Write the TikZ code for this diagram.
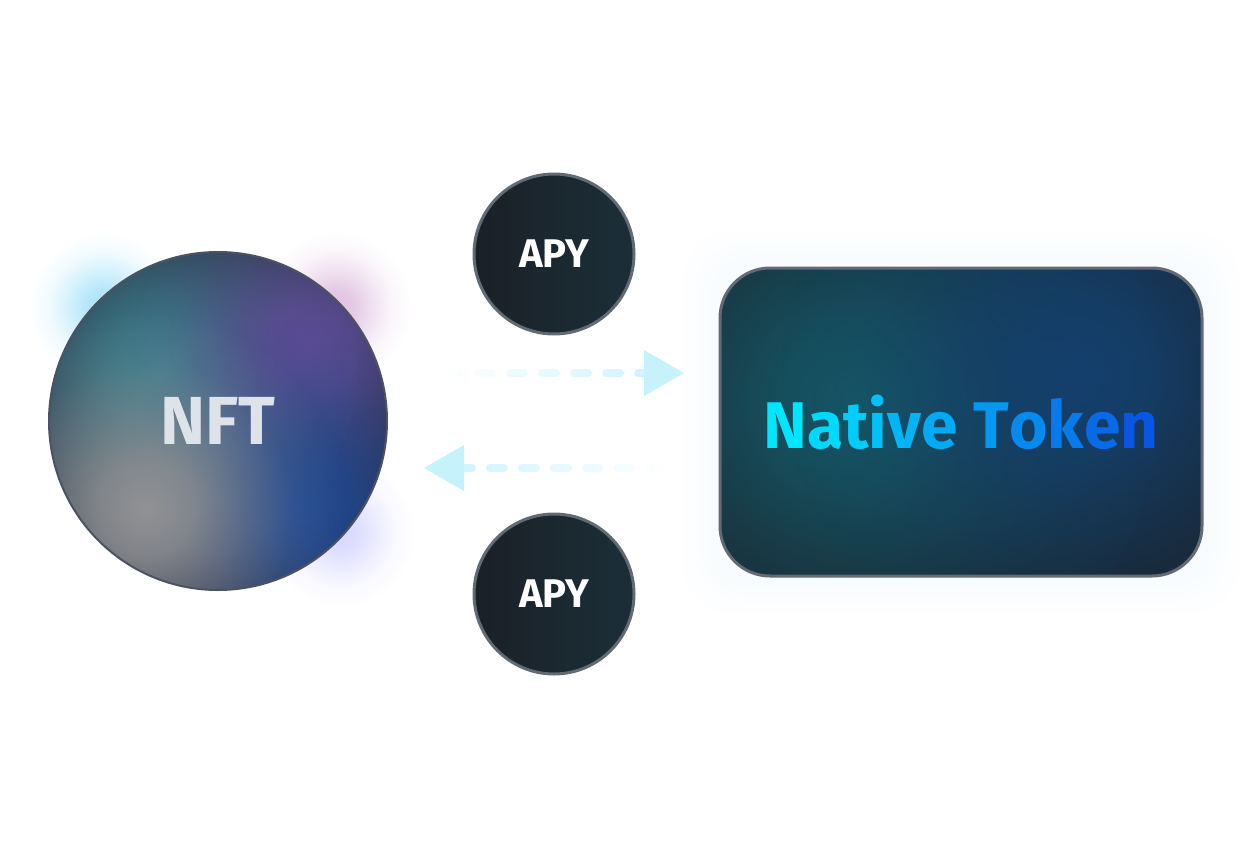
\documentclass[tikz,border=0pt]{standalone}
\usepackage{fontspec}
\setmainfont{Fira Sans}
\usetikzlibrary{arrows.meta,fadings,backgrounds}

\definecolor{flowc}{RGB}{198,242,252}
\definecolor{rimc}{RGB}{98,107,116}
\definecolor{apyL}{RGB}{27,32,39}
\definecolor{apyR}{RGB}{27,47,56}
\definecolor{nftin}{RGB}{74,80,104}
\definecolor{nftout}{RGB}{44,48,66}
\definecolor{nftteal}{RGB}{58,128,142}
\definecolor{nftpurple}{RGB}{94,76,150}
\definecolor{nftblue}{RGB}{30,72,148}
\definecolor{nftgray}{RGB}{146,146,148}
\definecolor{nfttext}{RGB}{222,227,233}
\definecolor{tokbg}{RGB}{26,38,49}
\definecolor{tokteal}{RGB}{22,88,102}
\definecolor{tokblue}{RGB}{20,64,110}
\definecolor{tokA}{RGB}{0,230,255}
\definecolor{tokB}{RGB}{10,86,228}
\definecolor{haze}{RGB}{214,236,250}

% soft radial fading, opaque in the middle
\pgfdeclareradialshading{softglow}{\pgfpointorigin}{color(0bp)=(white); color(6bp)=(black!18); color(12.5bp)=(black!55); color(18.5bp)=(black!85); color(25bp)=(black); color(50bp)=(black)}
\pgfdeclarefading{glowfade}{\pgfuseshading{softglow}}
\tikzfading[name=fadeleft, left color=transparent!100, right color=transparent!0]
\tikzfading[name=faderight, left color=transparent!0, right color=transparent!100]

\tikzset{
  blob/.style={path fading=glowfade, fill=#1},
  apy/.style={circle, minimum size=160pt, inner sep=0pt, draw=rimc, line width=3pt,
    left color=apyL, right color=apyR, text=white, font=\fontsize{40}{40}\selectfont\bfseries},
  nftcoin/.style={circle, minimum size=338pt, inner sep=0pt, draw=rimc!60!nftout, line width=2pt,
    inner color=nftin, outer color=nftout, text=nfttext, font=\fontsize{68}{68}\selectfont\bfseries,
    path picture={
      \fill[blob=nftteal] ([shift={(-70pt,58pt)}]path picture bounding box.center) circle[radius=210pt];
      \fill[blob=nftpurple] ([shift={(92pt,74pt)}]path picture bounding box.center) circle[radius=180pt];
      \fill[blob=nftblue] ([shift={(84pt,-88pt)}]path picture bounding box.center) circle[radius=190pt];
      \fill[blob=nftgray] ([shift={(-72pt,-88pt)}]path picture bounding box.center) circle[radius=200pt];
    }},
  tokbox/.style={rectangle, rounded corners=50pt, minimum width=482pt, minimum height=308pt,
    draw=rimc, line width=3pt, fill=tokbg, font=\fontsize{66}{66}\selectfont\bfseries,
    path picture={
      \fill[blob=tokteal] ([shift={(-120pt,22pt)}]path picture bounding box.center) circle[radius=320pt];
      \fill[blob=tokblue] ([shift={(120pt,50pt)}]path picture bounding box.center) circle[radius=300pt];
    }},
  flow/.style={draw=flowc, line width=8pt, line cap=round, dash pattern=on 14pt off 18pt, shorten >=40pt},
  flowtip/.style={draw=flowc, line width=8pt, dash pattern=on 0pt off 1000pt,
    -{Triangle[length=40pt,width=46pt,line width=0pt]}}
}

\begin{document}
\begin{tikzpicture}[x=1pt,y=-1pt]
\useasboundingbox (0,0) rectangle (1244,848);

\node[nftcoin] (nft) at (218,421) {NFT};
\node[apy] (apyt) at (554,254) {APY};
\node[apy] (apyb) at (554,594) {APY};
\node[tokbox] (tok) at (961,422) {\color{tokA}N\color{tokA!91!tokB}a\color{tokA!82!tokB}t\color{tokA!74!tokB}i\color{tokA!66!tokB}v\color{tokA!58!tokB}e
  \color{tokA!46!tokB}T\color{tokA!36!tokB}o\color{tokA!26!tokB}k\color{tokA!14!tokB}e\color{tokB}n};

% glow behind the coin and the box
\begin{scope}[on background layer]
  \fill[blob=cyan!35] (104,307) circle[radius=75pt];
  \fill[blob=violet!25] (336,307) circle[radius=75pt];
  \fill[blob=blue!16] (340,532) circle[radius=75pt];
  \foreach \g in {6,12,...,36}
    \fill[haze, opacity=0.03, rounded corners=50pt]
      ([shift={(-\g pt,-\g pt)}]tok.south west) rectangle ([shift={(\g pt,\g pt)}]tok.north east);
\end{scope}

\coordinate (fwdS) at (446,373);
\coordinate (fwdE) at (684,373);
\coordinate (bckS) at (664,468);
\coordinate (bckE) at (424,468);

\draw[flow, path fading=fadeleft] (fwdS) -- (fwdE);
\draw[flowtip] (fwdS) -- (fwdE);
\draw[flow, path fading=faderight] (bckS) -- (bckE);
\draw[flowtip] (bckS) -- (bckE);
\end{tikzpicture}
\end{document}
